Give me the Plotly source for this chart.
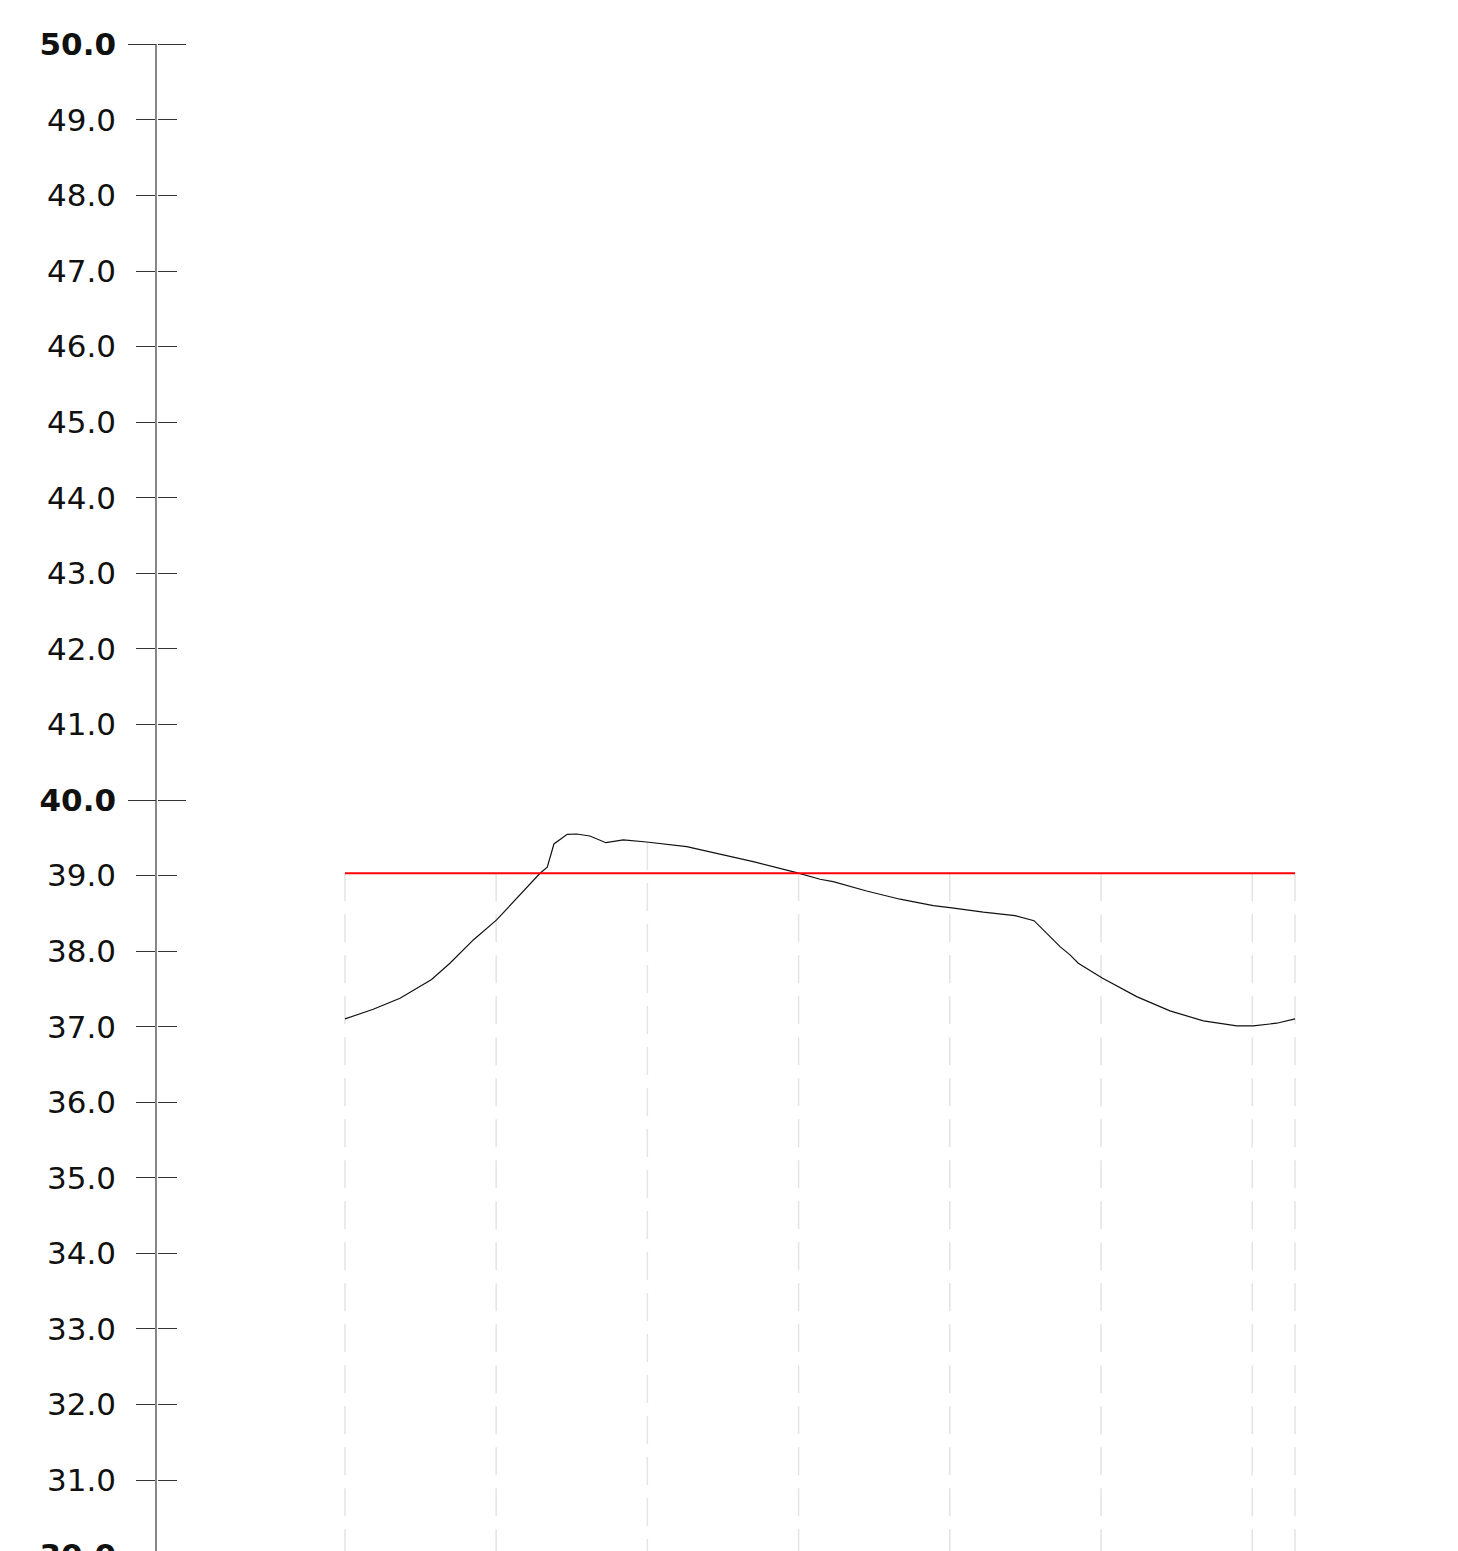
import numpy as np
import plotly.graph_objects as go

# ---- data ----
curve_x = [0.000, 0.187, 0.364, 0.573, 0.694, 0.849, 1.003, 1.290, 1.338, 1.382, 1.470,
           1.532, 1.620, 1.726, 1.841, 1.995, 2.260, 2.480, 2.700, 2.987, 3.142, 3.229,
           3.450, 3.671, 3.891, 4.001, 4.222, 4.431, 4.557, 4.729, 4.795, 4.850, 5.005,
           5.236, 5.456, 5.677, 5.898, 6.007, 6.162, 6.283]
curve_y = [37.103, 37.231, 37.377, 37.625, 37.840, 38.148, 38.413, 39.030, 39.110, 39.418, 39.546,
           39.550, 39.524, 39.435, 39.471, 39.444, 39.382, 39.286, 39.184, 39.039, 38.951, 38.919,
           38.796, 38.687, 38.602, 38.575, 38.515, 38.470, 38.403, 38.060, 37.950, 37.840, 37.648,
           37.398, 37.209, 37.077, 37.011, 37.011, 37.046, 37.103]
threshold = 39.03
grid_x = [0, 1, 2, 3, 4, 5, 6, 6.283]
y_ticks = list(range(30, 51))
y_major = [30, 40, 50]
y_range = [29.995, 50.005]
x_range = [-1.243, 7.308]

tick_text = [f"<b>{v:.1f}</b>" if v in y_major else f"{v:.1f}" for v in y_ticks]

fig = go.Figure()
fig.add_trace(go.Scatter(x=curve_x, y=curve_y, mode="lines",
                         line=dict(color="#111111", width=1.2), hoverinfo="skip"))
fig.add_trace(go.Scatter(x=[curve_x[0], curve_x[-1]], y=[threshold, threshold], mode="lines",
                         line=dict(color="#ff0000", width=2), hoverinfo="skip"))
for ax in ["y2", "y3", "y4"]:
    fig.add_trace(go.Scatter(x=[None], y=[None], yaxis=ax, mode="lines", hoverinfo="skip"))

# dashed vertical gridlines from the upper envelope down to the bottom
for gx in grid_x:
    top = max(threshold, float(np.interp(gx, curve_x, curve_y)))
    fig.add_shape(type="line", xref="x", yref="y", x0=gx, x1=gx, y0=top, y1=30,
                  line=dict(color="#e4e4e4", width=1.5, dash="28px,13px"), layer="below")

font = dict(family="DejaVu Sans, Verdana, sans-serif", size=31, color="#111111")
common = dict(range=y_range, showgrid=False, zeroline=False)
fig.update_layout(
    width=1450, height=1600,
    margin=dict(l=149, r=8, t=36, b=52),
    paper_bgcolor="white", plot_bgcolor="white",
    showlegend=False,
    xaxis=dict(range=x_range, showgrid=False, zeroline=False, showline=False,
               showticklabels=False, ticks=""),
    yaxis=dict(**common, anchor="x", tickvals=y_ticks, ticktext=tick_text, ticks="outside",
               ticklen=19, tickwidth=1, tickcolor="#333333", showline=True,
               linecolor="#888888", linewidth=1.5, tickfont=font, ticklabelstandoff=14),
    # right-pointing halves of the ticks: right-side axes placed on the left edge
    yaxis2=dict(**common, overlaying="y", side="right", anchor="free", position=0,
                tickvals=y_ticks, ticks="outside", ticklen=19, tickwidth=1,
                tickcolor="#333333", showticklabels=False, showline=False),
    yaxis3=dict(**common, overlaying="y", side="left", anchor="x", tickvals=y_major,
                ticks="outside", ticklen=28, tickwidth=1, tickcolor="#333333",
                showticklabels=False, showline=False),
    yaxis4=dict(**common, overlaying="y", side="right", anchor="free", position=0,
                tickvals=y_major, ticks="outside", ticklen=28, tickwidth=1,
                tickcolor="#333333", showticklabels=False, showline=False),
)

fig.write_html("out.html")
